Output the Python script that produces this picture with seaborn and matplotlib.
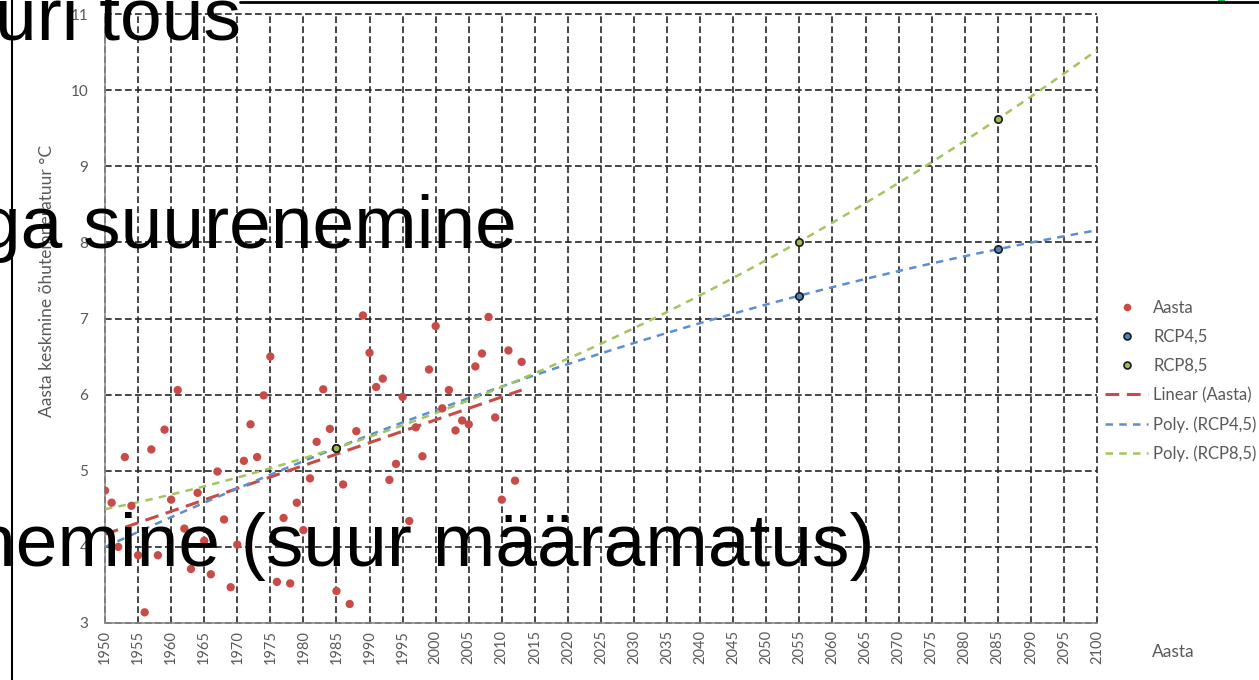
import numpy as np
import pandas as pd
import seaborn as sns
import matplotlib.pyplot as plt
from matplotlib.lines import Line2D
from matplotlib.patches import Rectangle

years = list(range(1950, 2014))
aasta = [4.74, 4.58, 4.00, 5.18, 4.54, 3.89, 3.14, 5.28, 3.89, 5.54,
         4.62, 6.06, 4.24, 3.71, 4.71, 4.08, 3.64, 4.99, 4.36, 3.47,
         4.03, 5.13, 5.61, 5.18, 5.99, 6.50, 3.54, 4.38, 3.52, 4.58,
         4.22, 4.90, 5.38, 6.07, 5.55, 3.42, 4.82, 3.25, 5.52, 7.04,
         6.55, 6.10, 6.21, 4.88, 5.09, 5.97, 4.34, 5.57, 5.19, 6.33,
         6.90, 5.82, 6.06, 5.53, 5.66, 5.61, 6.37, 6.54, 7.02, 5.70,
         4.62, 6.58, 4.87, 6.43]

# scenario points
rcp_years = [1985, 2055, 2085]
rcp45 = [5.30, 7.30, 7.91]
rcp85 = [5.30, 8.01, 9.62]

x_ticks = list(range(1950, 2101, 5))
y_ticks = list(range(3, 12))

red = '#C94B48'
blue = '#4F81BD'
green = '#9BBB59'
line_blue = '#5B8FD0'
line_green = '#A3C55F'
grey = '#595959'

sns.set_theme(style='white')
plt.rcParams['font.family'] = ['Lato', 'DejaVu Sans']

W, H = 1259, 680
fig = plt.figure(figsize=(W / 100, H / 100), dpi=100)
ax = fig.add_axes([105 / W, 57 / H, 992 / W, 609 / H])

df = pd.DataFrame({'aasta': years, 'temp': aasta})

# trend lines (Excel style: linear over data, 2nd order poly over whole axis)
lin_x = np.arange(years[0], years[-1] + 1)
lin_y = np.polyval(np.polyfit(years, aasta, 1), lin_x)
poly_x = np.arange(1950, 2101)
p45 = np.polyval(np.polyfit(rcp_years, rcp45, 2), poly_x)
p85 = np.polyval(np.polyfit(rcp_years, rcp85, 2), poly_x)

sns.lineplot(x=lin_x, y=lin_y, ax=ax, color=red, lw=2.2,
             linestyle=(0, (4.5, 2.5)), zorder=3)
sns.lineplot(x=poly_x, y=p45, ax=ax, color=line_blue, lw=1.8,
             linestyle=(0, (3, 2.5)), zorder=3)
sns.lineplot(x=poly_x, y=p85, ax=ax, color=line_green, lw=1.8,
             linestyle=(0, (3, 2.5)), zorder=3)

sns.scatterplot(data=df, x='aasta', y='temp', ax=ax, color=red, s=36,
                edgecolor='none', zorder=4)
sns.scatterplot(x=rcp_years, y=rcp45, ax=ax, color=blue, s=28,
                edgecolor='#1a1a1a', linewidth=1.2, zorder=5)
sns.scatterplot(x=rcp_years, y=rcp85, ax=ax, color=green, s=28,
                edgecolor='#1a1a1a', linewidth=1.2, zorder=5)

ax.set_xlim(1950, 2100)
ax.set_ylim(3, 11)
ax.set_xticks(x_ticks)
ax.set_yticks(y_ticks)
ax.set_xlabel('')
ax.set_ylabel('')
ax.grid(True, color='#262626', linestyle=(0, (4, 2)), lw=1.2)
for gl in ax.get_xgridlines() + ax.get_ygridlines():
    gl.set_clip_on(False)
for s in ['top', 'right']:
    ax.spines[s].set_visible(False)
for s in ['left', 'bottom']:
    ax.spines[s].set_color('#8c8c8c')
    ax.spines[s].set_linewidth(1.2)
ax.tick_params(axis='x', length=4, direction='inout', color='#8c8c8c',
               labelrotation=90, labelsize=10.5, labelcolor=grey, pad=3)
ax.tick_params(axis='y', length=0, labelsize=11, labelcolor=grey, pad=12)

fig.text(47 / W, 1 - 281 / H, 'Aasta keskmine õhutemperatuur °C', rotation=90,
         ha='center', va='center', fontsize=12.5, color=grey)
fig.text(1173 / W, 1 - 652 / H, 'Aasta', ha='center', va='center',
         fontsize=12.5, color=grey)

handles = [
    Line2D([], [], ls='none', marker='o', color=red, ms=5.5, mec='none'),
    Line2D([], [], ls='none', marker='o', mfc=blue, mec='#1a1a1a', ms=5, mew=1.2),
    Line2D([], [], ls='none', marker='o', mfc=green, mec='#1a1a1a', ms=5, mew=1.2),
    Line2D([], [], color=red, lw=2.2, ls=(0, (4.5, 2.5))),
    Line2D([], [], color=line_blue, lw=1.8, ls=(0, (3, 2.5))),
    Line2D([], [], color=line_green, lw=1.8, ls=(0, (3, 2.5))),
]
labels = ['Aasta', 'RCP4,5', 'RCP8,5', 'Linear (Aasta)', 'Poly. (RCP4,5)',
          'Poly. (RCP8,5)']
fig.legend(handles, labels, loc='center left',
           bbox_to_anchor=(1105 / W, 1 - 381 / H), frameon=False,
           fontsize=12, labelcolor=grey, handlelength=2.6,
           handletextpad=0.3, labelspacing=0.78, borderpad=0,
           borderaxespad=0)

# slide frame pieces
fig.add_artist(Line2D([12 / W, 12 / W], [0, 1], transform=fig.transFigure,
                      color='black', lw=1.5))
fig.add_artist(Line2D([240 / W, 1], [1 - 2 / H, 1 - 2 / H],
                      transform=fig.transFigure, color='black', lw=2))
fig.add_artist(Rectangle((1218 / W, 1 - 2 / H), 7 / W, 2 / H,
                         transform=fig.transFigure, color='#1DB954', lw=0))

# big slide text lying on top of the chart
big = dict(ha='right', va='baseline', fontsize=54, color='black',
           family=['Liberation Sans', 'DejaVu Sans'], zorder=10)
fig.text(241 / W, 1 - 40 / H, 'uri tous', **big)
fig.text(517 / W, 1 - 248 / H, 'ga suurenemine', **big)
fig.text(875 / W, 1 - 566 / H, 'nemine (suur määramatus)', **big)

fig.savefig('out.png', dpi=100)
